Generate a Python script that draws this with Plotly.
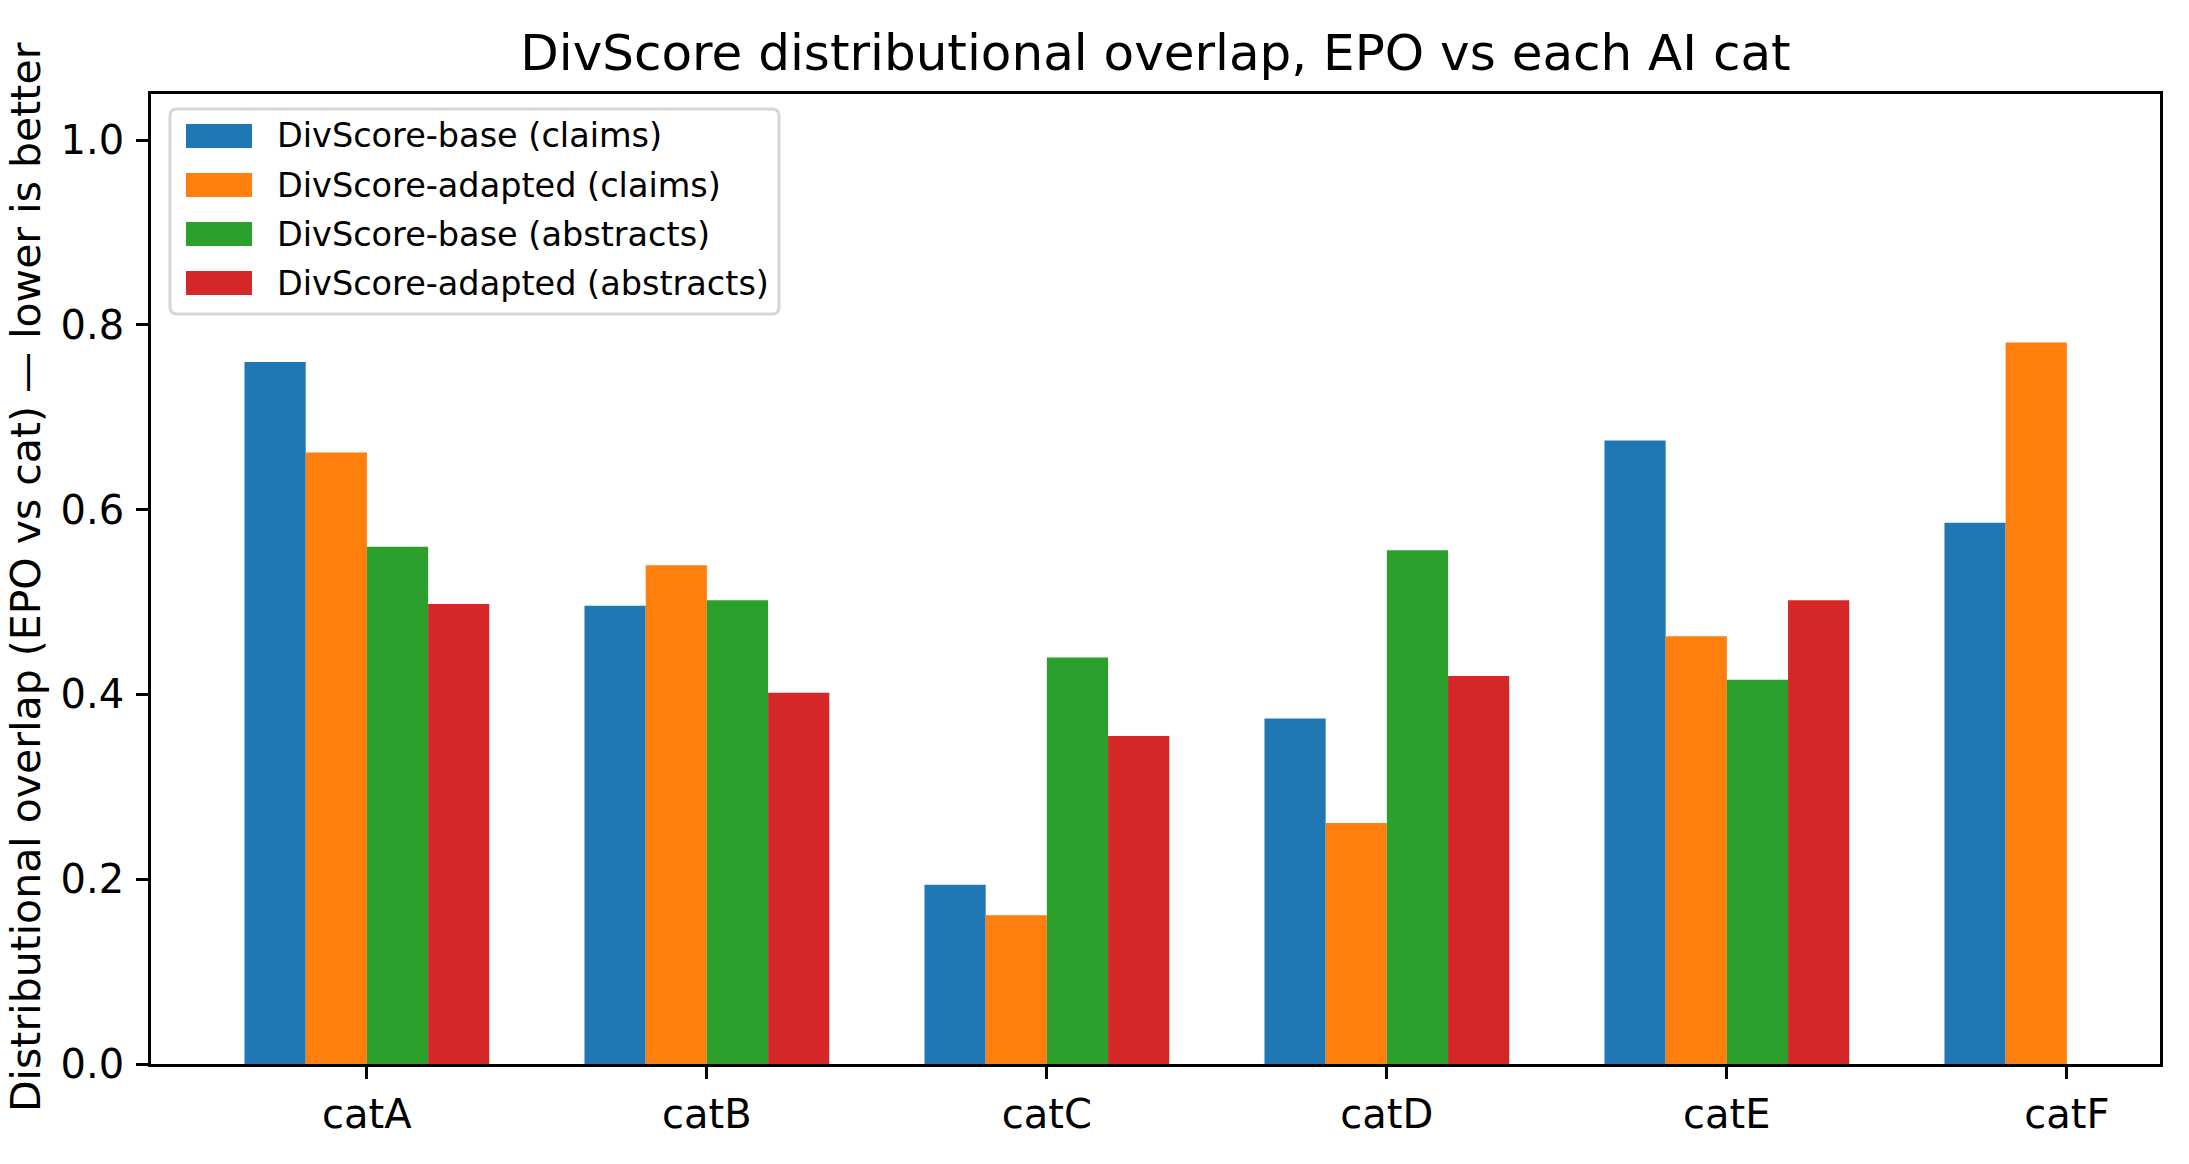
import plotly.graph_objects as go

# ---------------- data ----------------
categories = ["catA", "catB", "catC", "catD", "catE", "catF"]
series_names = [
    "DivScore-base (claims)",
    "DivScore-adapted (claims)",
    "DivScore-base (abstracts)",
    "DivScore-adapted (abstracts)",
]
base_claims = [0.760, 0.496, 0.194, 0.374, 0.675, 0.586]
adapted_claims = [0.662, 0.540, 0.161, 0.261, 0.463, 0.781]
base_abstracts = [0.560, 0.502, 0.440, 0.556, 0.416, None]
adapted_abstracts = [0.498, 0.402, 0.355, 0.420, 0.502, None]
y_ticks = [0.0, 0.2, 0.4, 0.6, 0.8, 1.0]

title_text = "DivScore distributional overlap, EPO vs each AI cat"
ylabel_text = "Distributional overlap (EPO vs cat) \u2014 lower is better"

colors = ["#1f77b4", "#ff7f0e", "#2ca02c", "#d62728"]
series_values = [base_claims, adapted_claims, base_abstracts, adapted_abstracts]

# ---------------- geometry ----------------
W, H = 2189, 1164
L, R, T, B = 151, 2160, 94, 1064
PW, PH = R - L, B - T
FONT = "DejaVu Sans"


def px_x(X):
    return (X - L) / PW


def px_y(Y):
    return (B - Y) / PH


fig = go.Figure()
for name, vals, col in zip(series_names, series_values, colors):
    fig.add_trace(
        go.Bar(
            x=categories,
            y=vals,
            name=name,
            marker=dict(color=col, line=dict(width=0)),
            showlegend=False,
        )
    )

# ---------------- manual legend (matplotlib style) ----------------
shapes = []
annotations = []
lx0, lx1, ly0, ly1 = 170, 779, 109, 314
rad = 7
rx, ry = rad / PW, rad / PH
x0, x1 = px_x(lx0), px_x(lx1)
y0, y1 = px_y(ly1), px_y(ly0)
path = (
    f"M {x0+rx},{y0} L {x1-rx},{y0} Q {x1},{y0} {x1},{y0+ry} "
    f"L {x1},{y1-ry} Q {x1},{y1} {x1-rx},{y1} "
    f"L {x0+rx},{y1} Q {x0},{y1} {x0},{y1-ry} "
    f"L {x0},{y0+ry} Q {x0},{y0} {x0+rx},{y0} Z"
)
shapes.append(
    dict(
        type="path", path=path, xref="paper", yref="paper",
        line=dict(color="#d6d6d6", width=3), fillcolor="rgba(255,255,255,0.8)",
        layer="above",
    )
)
row_centers = [136, 185, 234, 283]
for name, col, yc in zip(series_names, colors, row_centers):
    shapes.append(
        dict(
            type="rect", xref="paper", yref="paper",
            x0=px_x(186), x1=px_x(252), y0=px_y(yc + 12), y1=px_y(yc - 12),
            fillcolor=col, line=dict(width=0), layer="above",
        )
    )
    annotations.append(
        dict(
            text=name, xref="paper", yref="paper", x=px_x(275), y=px_y(yc),
            xanchor="left", yanchor="middle", showarrow=False,
            font=dict(family=FONT, size=33.5, color="black"),
        )
    )

# y-axis label
annotations.append(
    dict(
        text=ylabel_text, xref="paper", yref="paper",
        x=px_x(26), y=px_y(577), xanchor="center", yanchor="middle",
        textangle=-90, showarrow=False,
        font=dict(family=FONT, size=41, color="black"),
    )
)

fig.update_layout(
    width=W,
    height=H,
    margin=dict(l=L, r=W - R, t=T, b=H - B, pad=0),
    paper_bgcolor="white",
    plot_bgcolor="white",
    barmode="group",
    bargap=0.28,
    bargroupgap=0,
    showlegend=False,
    font=dict(family=FONT, size=40, color="black"),
    title=dict(
        text=title_text,
        x=px_x((L + R) / 2), xref="paper", xanchor="center",
        y=1 - 52 / H, yref="container", yanchor="middle",
        font=dict(family=FONT, size=50, color="black"),
    ),
    shapes=shapes,
    annotations=annotations,
)

fig.update_xaxes(
    type="category",
    range=[-0.635, 5.274],
    showline=True, mirror=True, linecolor="black", linewidth=2.7,
    ticks="outside", ticklen=12, tickwidth=2.7, tickcolor="black",
    showgrid=False, zeroline=False,
    tickfont=dict(family=FONT, size=40, color="black"),
    ticklabelstandoff=1,
)
fig.update_yaxes(
    range=[0, 1.05],
    tickvals=y_ticks,
    tickformat=".1f",
    showline=True, mirror=True, linecolor="black", linewidth=2.7,
    ticks="outside", ticklen=12, tickwidth=2.7, tickcolor="black",
    showgrid=False, zeroline=False,
    tickfont=dict(family=FONT, size=40, color="black"),
    ticklabelstandoff=4,
)

fig.write_html("out.html")
